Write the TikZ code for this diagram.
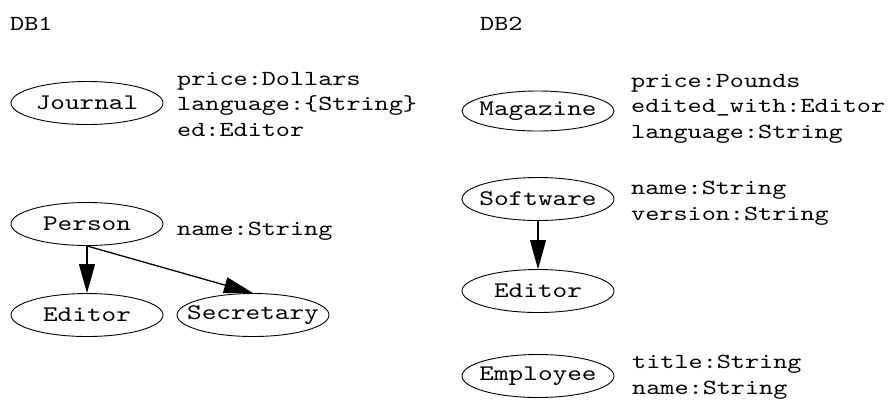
\documentclass[tikz,border=0pt]{standalone}
\usepackage{fontspec}
\setmonofont{lmmono10-regular}[Extension=.otf, FakeStretch=1.25]
\usetikzlibrary{shapes.geometric,arrows.meta}
\tikzset{
  cls/.style={ellipse, draw, line width=0.9pt, minimum width=152pt, minimum height=43pt,
    inner xsep=-16pt, inner ysep=0pt, font=\ttfamily\fontsize{22.3}{25.5}\selectfont},
  attrs/.style={anchor=base west, align=left, inner sep=0pt,
    font=\ttfamily\fontsize{21.5}{25.5}\selectfont},
  dbname/.style={anchor=base west, inner sep=0pt, font=\ttfamily\fontsize{21.5}{25.5}\selectfont},
  isa/.style={line width=1.3pt, -{Triangle[length=29pt,width=16pt]}}
}
\begin{document}
\begin{tikzpicture}[x=1pt,y=-1pt]
\useasboundingbox (0,0) rectangle (890,400);
\fill[white] (0,0) rectangle (890,400);

% first database (attribute blocks are placed by the baseline of their last line)
\node[dbname] (db1) at (10,30) {DB1};
\node[cls] (journal) at (87,103) {Journal};
\node[attrs] (journalattrs) at (177,136) {price:Dollars\\language:\{String\}\\ed:Editor};
\node[cls] (person) at (87,224) {Person};
\node[attrs] (personattrs) at (177,235) {name:String};
\node[cls] (editor1) at (87,315) {Editor};
\node[cls] (secretary) at (253,315) {Secretary};
\draw[isa] (person.south) -- (editor1.north);
\draw[isa] (person.south) -- (secretary.north);

% second database
\node[dbname] (db2) at (480,30) {DB2};
\node[cls, minimum height=40pt] (magazine) at (538,111) {Magazine};
\node[attrs] (magazineattrs) at (631,138) {price:Pounds\\edited\_with:Editor\\language:String};
\node[cls] (software) at (538,199) {Software};
\node[attrs] (softwareattrs) at (631,220) {name:String\\version:String};
\node[cls] (editor2) at (538,291) {Editor};
\draw[isa] (software.south) -- (editor2.north);
\node[cls] (employee) at (538,376) {Employee};
\node[attrs] (employeeattrs) at (632,394) {title:String\\name:String};
\end{tikzpicture}
\end{document}
